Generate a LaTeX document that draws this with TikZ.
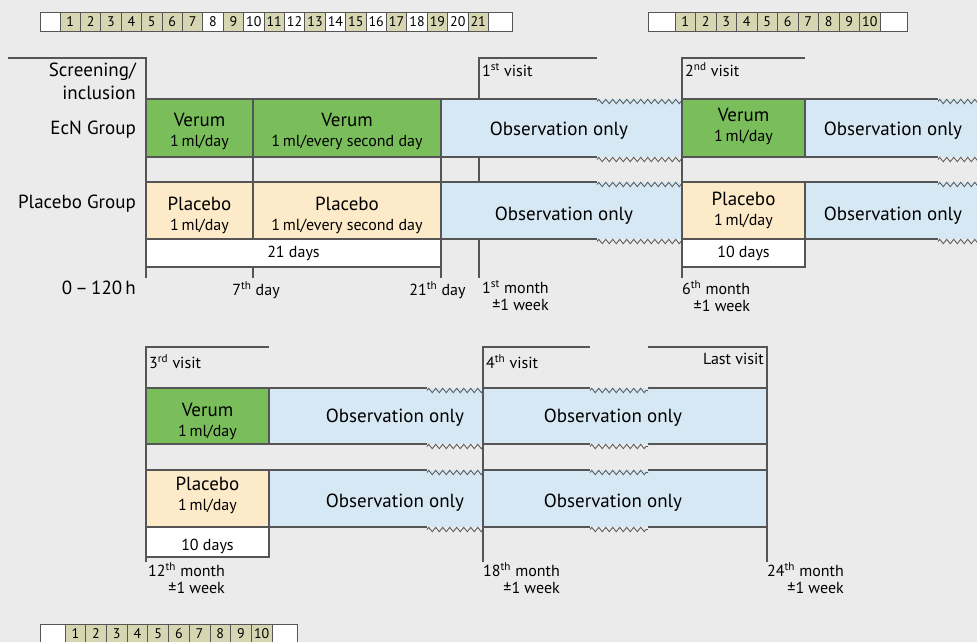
\documentclass[tikz,border=0pt]{standalone}
\usepackage{fontspec}
\setmainfont{PT Sans}
\usetikzlibrary{decorations.pathmorphing}
\definecolor{bggrey}{RGB}{235,235,235}
\definecolor{verumgreen}{RGB}{122,190,92}
\definecolor{placebopeach}{RGB}{253,234,200}
\definecolor{obsblue}{RGB}{214,232,243}
\definecolor{dayshade}{RGB}{214,214,178}
\definecolor{linegrey}{RGB}{85,85,85}
\tikzset{
	frame/.style={draw=linegrey, line width=1.1pt},
	cell/.style={draw=linegrey, line width=0.7pt},
	wave/.style={draw=linegrey, line width=0.8pt, decorate, decoration={zigzag, segment length=7pt, amplitude=2.2pt}},
	big/.style={font=\fontsize{19}{23}\selectfont, inner sep=0pt},
	small/.style={font=\fontsize{16}{17}\selectfont, inner sep=0pt},
	drug/.style={font=\fontsize{19}{20}\selectfont, align=center, inner sep=0pt},
	daynum/.style={font=\fontsize{14}{14}\selectfont, inner sep=0pt},
	when/.style={font=\fontsize{16}{17}\selectfont, align=right, inner sep=0pt, anchor=north west},
}
\newcommand{\sm}{\fontsize{16}{20}\selectfont}

\begin{document}
\begin{tikzpicture}[x=1pt, y=-1pt]
			%%%%% START %%%%%
			\fill[bggrey] (0, 0) rectangle (977, 642);
			\useasboundingbox (0, 0) rectangle (977, 642);
			
			% day strips
			\fill[white] (40, 12) rectangle (512, 31);
			\foreach \i in {1,2,3,4,5,6,7,9,11,13,15,17,19,21}
				\fill[dayshade] ({60+(\i-1)*20.4}, 12) rectangle ({60+\i*20.4}, 31);
			\draw[cell] (40, 12) rectangle (512, 31);
			\foreach \i in {1,...,21} {
				\draw[cell] ({60+(\i-1)*20.4}, 12) rectangle ({60+\i*20.4}, 31);
				\node[daynum] (a\i) at ({49.8+\i*20.4}, 22) {\i};
			}
			
			\fill[white] (648, 12) rectangle (907, 31);
			\draw[cell] (648, 12) rectangle (907, 31);
			\foreach \i in {1,...,10} {
				\draw[cell, fill=dayshade] ({675+(\i-1)*20.5}, 12) rectangle ({675+\i*20.5}, 31);
				\node[daynum] (b\i) at ({664.75+\i*20.5}, 22) {\i};
			}
			
			\fill[white] (40, 624) rectangle (297, 643);
			\draw[cell] (40, 624) rectangle (297, 643);
			\foreach \i in {1,...,10} {
				\draw[cell, fill=dayshade] ({65+(\i-1)*20.7}, 624) rectangle ({65+\i*20.7}, 643);
				\node[daynum] (c\i) at ({54.65+\i*20.7}, 634) {\i};
			}
			
			% first part: verticals
			\draw[frame] (8, 58) -- (146, 58) -- (146, 278);
			\draw[frame] (253, 99) -- (253, 278);
			\draw[frame] (441, 99) -- (441, 278);
			\draw[frame] (597, 58) -- (479, 58) -- (479, 278);
			\draw[frame] (805, 58) -- (682, 58) -- (682, 278);
			
			% first part: boxes
			\draw[frame, fill=verumgreen] (146, 99) rectangle (253, 157);
			\draw[frame, fill=verumgreen] (253, 99) rectangle (441, 157);
			\draw[frame, fill=placebopeach] (146, 182) rectangle (253, 239);
			\draw[frame, fill=placebopeach] (253, 182) rectangle (441, 239);
			\draw[frame, fill=white] (146, 239) rectangle (441, 267);
			
			\fill[obsblue] (442, 99) rectangle (682, 157);
			\fill[obsblue] (442, 182) rectangle (682, 239);
			\foreach \y in {99, 157, 182, 239} {
				\draw[frame] (441, \y) -- (597, \y);
				\draw[wave] (597, \y+2.5) -- (682, \y+2.5);
			}
			
			\draw[frame, fill=verumgreen] (682, 99) rectangle (805, 157);
			\draw[frame, fill=placebopeach] (682, 182) rectangle (805, 239);
			\draw[frame, fill=white] (682, 239) rectangle (805, 267);
			
			\fill[obsblue] (806, 99) rectangle (977, 157);
			\fill[obsblue] (806, 182) rectangle (977, 239);
			\foreach \y in {99, 157, 182, 239} {
				\draw[frame] (805, \y) -- (938, \y);
				\draw[wave] (938, \y+2.5) -- (985, \y+2.5);
			}
			
			% first part: texts
			\node[big, align=right, anchor=east] (screen) at (136, 81) {Screening/\\inclusion};
			\node[big, anchor=east] (ecn) at (136, 130) {EcN Group};
			\node[big, anchor=east] (plac) at (136, 204) {Placebo Group};
			\node[big, anchor=east] (hours) at (136, 288) {0\,–\,120\,h};
			
			\node[drug] (ver1) at (199.5, 131) {Verum\\\sm 1\,ml/day};
			\node[drug] (ver2) at (347, 131) {Verum\\\sm 1\,ml/every second day};
			\node[drug] (pla1) at (199.5, 215) {Placebo\\\sm 1\,ml/day};
			\node[drug] (pla2) at (347, 215) {Placebo\\\sm 1\,ml/every second day};
			\node[small] (days21) at (293.5, 253) {21 days};
			\node[big] (obs1) at (559, 131) {Observation only};
			\node[big] (obs2) at (564, 216) {Observation only};
			\node[drug] (ver3) at (743.5, 126) {Verum\\\sm 1\,ml/day};
			\node[drug] (pla3) at (743.5, 210) {Placebo\\\sm 1\,ml/day};
			\node[small] (days10a) at (743.5, 253) {10 days};
			\node[big] (obs3) at (893, 131) {Observation only};
			\node[big] (obs4) at (893, 216) {Observation only};
			
			\node[small, anchor=west] (visit1) at (482, 70) {1\textsuperscript{st} visit};
			\node[small, anchor=west] (visit2) at (685, 70) {2\textsuperscript{nd} visit};
			
			\node[small] (day7) at (256, 290) {7\textsuperscript{th} day};
			\node[small] (day21) at (437.5, 290) {21\textsuperscript{th} day};
			\node[when] (month1) at (482, 280) {1\textsuperscript{st} month\\±1 week};
			\node[when] (month6) at (682, 280) {6\textsuperscript{th} month\\±1 week};
			
			% second part: verticals
			\draw[frame] (269, 347) -- (146, 347) -- (146, 562);
			\draw[frame] (590, 347) -- (483, 347) -- (483, 562);
			\draw[frame] (648, 347) -- (767, 347) -- (767, 562);
			
			% second part: boxes
			\draw[frame, fill=verumgreen] (146, 388) rectangle (269, 444);
			\draw[frame, fill=placebopeach] (146, 470) rectangle (269, 527);
			\draw[frame, fill=white] (146, 527) rectangle (269, 557);
			
			\fill[obsblue] (270, 388) rectangle (483, 444);
			\fill[obsblue] (270, 470) rectangle (483, 527);
			\fill[obsblue] (484, 388) rectangle (766, 444);
			\fill[obsblue] (484, 470) rectangle (766, 527);
			\foreach \y in {388, 444, 470, 527} {
				\draw[frame] (269, \y) -- (427, \y);
				\draw[wave] (427, \y+2.5) -- (483, \y+2.5);
				\draw[frame] (483, \y) -- (590, \y);
				\draw[wave] (590, \y+2.5) -- (648, \y+2.5);
				\draw[frame] (648, \y) -- (767, \y);
			}
			\draw[frame] (483, 380) -- (483, 535);
			\draw[frame] (767, 380) -- (767, 535);
			
			% second part: texts
			\node[drug] (ver4) at (207.5, 421) {Verum\\\sm 1\,ml/day};
			\node[drug] (pla4) at (207.5, 495) {Placebo\\\sm 1\,ml/day};
			\node[small] (days10b) at (207.5, 546) {10 days};
			\node[big] (obs5) at (395, 418) {Observation only};
			\node[big] (obs6) at (395, 503) {Observation only};
			\node[big] (obs7) at (613, 418) {Observation only};
			\node[big] (obs8) at (613, 503) {Observation only};
			
			\node[small, anchor=west] (visit3) at (149, 362) {3\textsuperscript{rd} visit};
			\node[small, anchor=west] (visit4) at (486, 362) {4\textsuperscript{th} visit};
			\node[small, anchor=east] (visit5) at (764, 359) {Last visit};
			
			\node[when] (month12) at (148, 562) {12\textsuperscript{th} month\\±1 week};
			\node[when] (month18) at (483, 562) {18\textsuperscript{th} month\\±1 week};
			\node[when] (month24) at (767, 562) {24\textsuperscript{th} month\\±1 week};
			%%%%% END %%%%%
\end{tikzpicture}
\end{document}
